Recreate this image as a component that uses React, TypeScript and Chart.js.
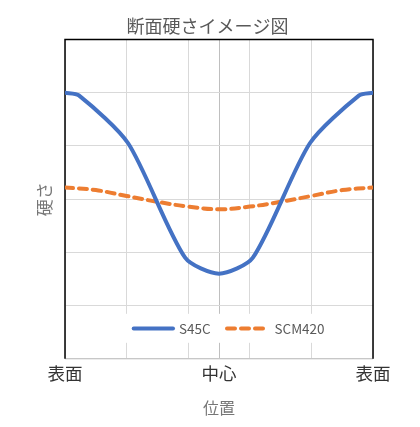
import React, { useEffect, useRef } from 'react';
import { Chart, registerables } from 'chart.js';

Chart.register(...registerables);

const FONT = '"Noto Sans CJK JP", "Noto Sans", sans-serif';

// chart texts
const chartTitle = '断面硬さイメージ図';
const yTitle = '硬さ';
const xTitle = '位置';
const seriesNames = ['S45C', 'SCM420'];

// x positions: 0 = surface, 5 = center, 10 = other surface
const xGridValues = [0, 2, 4, 5, 6, 8, 10];
const xTickValues = [0, 5, 10];
const xTickLabels = ['表面', '中心', '表面'];

// S45C hardness (arbitrary units 0..6)
const s45cX = [0, 0.45, 2.05, 3.9, 5, 6.1, 7.95, 9.55, 10];
const s45cY = [5.0, 4.95, 4.05, 1.9, 1.6, 1.9, 4.05, 4.95, 5.0];

// SCM420 hardness
const scm420X = [0, 1, 2, 3, 4, 5, 6, 7, 8, 9, 10];
const scm420Y = [3.22, 3.17, 3.06, 2.95, 2.86, 2.81, 2.86, 2.95, 3.06, 3.17, 3.22];

const toPoints = (xs: number[], ys: number[]) => xs.map((x, i) => ({ x, y: ys[i] }));

// black frame on top/left/right, grey axis line at the bottom
const framePlugin = {
  id: 'frame',
  beforeDatasetsDraw(chart: Chart) {
    const { ctx, chartArea: a } = chart;
    ctx.save();
    ctx.strokeStyle = '#bfbfbf';
    ctx.lineWidth = 1;
    ctx.beginPath();
    ctx.moveTo(a.left, a.bottom);
    ctx.lineTo(a.right, a.bottom);
    ctx.stroke();
    ctx.strokeStyle = '#000';
    ctx.lineWidth = 1.5;
    ctx.beginPath();
    ctx.moveTo(a.left, a.bottom);
    ctx.lineTo(a.left, a.top);
    ctx.lineTo(a.right, a.top);
    ctx.lineTo(a.right, a.bottom);
    ctx.stroke();
    ctx.restore();
  },
};

// legend drawn inside the plot area, near the bottom
const innerLegend = {
  id: 'innerLegend',
  afterDatasetsDraw(chart: Chart) {
    const { ctx, chartArea: a } = chart;
    const y = a.bottom - 30.3;
    ctx.save();
    ctx.fillStyle = '#fff';
    ctx.fillRect(a.left + 55, a.bottom - 45, 215, 29);
    const items = [
      { x0: a.left + 68.7, x1: a.left + 108, tx: a.left + 114 },
      { x0: a.left + 162, x1: a.left + 200, tx: a.left + 209.5 },
    ];
    chart.data.datasets.forEach((ds: any, i: number) => {
      const it = items[i];
      ctx.strokeStyle = ds.borderColor;
      ctx.lineWidth = ds.borderWidth;
      ctx.lineCap = 'round';
      ctx.setLineDash(ds.borderDash || []);
      ctx.beginPath();
      ctx.moveTo(it.x0, y);
      ctx.lineTo(it.x1, y);
      ctx.stroke();
      ctx.setLineDash([]);
      ctx.fillStyle = '#595959';
      ctx.font = `13.5px ${FONT}`;
      ctx.textBaseline = 'middle';
      ctx.textAlign = 'left';
      ctx.fillText(ds.label, it.tx, y + 0.5);
    });
    ctx.restore();
  },
};

export default function App() {
  const canvasRef = useRef<HTMLCanvasElement | null>(null);
  const chartRef = useRef<Chart | null>(null);

  useEffect(() => {
    document.body.style.margin = '0';
    if (!canvasRef.current) return;
    if (chartRef.current) chartRef.current.destroy();

    chartRef.current = new Chart(canvasRef.current, {
      type: 'scatter',
      data: {
        datasets: [
          {
            label: seriesNames[0],
            data: toPoints(s45cX, s45cY),
            showLine: true,
            borderColor: '#4472c4',
            borderWidth: 4,
            borderCapStyle: 'round',
            borderJoinStyle: 'round',
            tension: 0.25,
            pointRadius: 0,
          },
          {
            label: seriesNames[1],
            data: toPoints(scm420X, scm420Y),
            showLine: true,
            borderColor: '#ed7d31',
            borderWidth: 4,
            borderDash: [8, 6],
            borderCapStyle: 'round',
            tension: 0.4,
            pointRadius: 0,
          },
        ],
      },
      options: {
        animation: false,
        responsive: true,
        maintainAspectRatio: false,
        layout: { padding: { left: 0, right: 5, top: 0, bottom: 5 } },
        plugins: {
          legend: { display: false },
          tooltip: { enabled: false },
          title: {
            display: true,
            text: chartTitle,
            color: '#595959',
            font: { family: FONT, size: 18, weight: 'normal' },
            padding: { top: 15.2, bottom: 2.7 },
          },
        },
        scales: {
          x: {
            type: 'linear',
            min: 0,
            max: 10,
            afterBuildTicks: (axis: any) => {
              axis.ticks = xGridValues.map((value) => ({ value }));
            },
            afterFit: (axis: any) => {
              axis.paddingLeft = 65;
              axis.paddingRight = 47;
            },
            ticks: {
              autoSkip: false,
              maxRotation: 0,
              padding: 4,
              color: '#333',
              font: { family: FONT, size: 17.5 },
              callback: (value: any) => {
                const i = xTickValues.indexOf(Number(value));
                return i >= 0 ? xTickLabels[i] : '';
              },
            },
            grid: {
              drawTicks: false,
              lineWidth: 1,
              color: (c: any) => (c.tick && c.tick.value === 5 ? '#bfbfbf' : '#d9d9d9'),
            },
            border: { display: false },
            title: {
              display: true,
              text: xTitle,
              color: '#767676',
              font: { family: FONT, size: 16 },
              padding: { top: 11, bottom: 4 },
            },
          },
          y: {
            min: 0,
            max: 6,
            ticks: { display: false, stepSize: 1 },
            grid: { drawTicks: false, color: '#d9d9d9', lineWidth: 1 },
            border: { display: false },
            title: {
              display: true,
              text: yTitle,
              color: '#767676',
              font: { family: FONT, size: 17 },
              padding: { top: 10, bottom: 10 },
            },
          },
        },
      },
      plugins: [framePlugin, innerLegend],
    } as any);

    return () => {
      if (chartRef.current) {
        chartRef.current.destroy();
        chartRef.current = null;
      }
    };
  }, []);

  return (
    <div style={{ width: 420, height: 427, position: 'relative', overflow: 'hidden' }}>
      <canvas ref={canvasRef} />
    </div>
  );
}
